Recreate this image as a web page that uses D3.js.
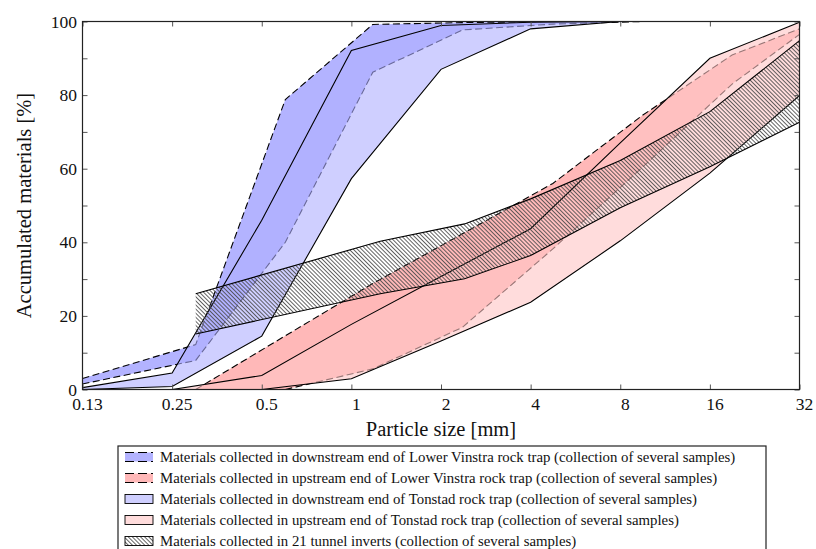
<!DOCTYPE html>
<html>
<head>
<meta charset="utf-8">
<script src="https://cdn.jsdelivr.net/npm/d3@7"></script>
<style>
  body { margin: 0; background: #fff; }
  text { font-family: "Liberation Serif", serif; fill: #111; }
</style>
</head>
<body>
<div id="chart"></div>
<script>
// Grain size curves: bands of accumulated materials vs particle size (log2 axis)

// Axis ticks
var xTicks = [0.125, 0.25, 0.5, 1, 2, 4, 8, 16, 32];
var xTickLabels = ["0.13", "0.25", "0.5", "1", "2", "4", "8", "16", "32"];
var yTicks = [0, 10, 20, 30, 40, 50, 60, 70, 80, 90, 100];
var yTickLabels = ["0", "", "20", "", "40", "", "60", "", "80", "", "100"];

// Lower Vinstra rock trap (sieve sizes in mm, % passing)
var lvSizes = [0.125, 0.3, 0.6, 1.18, 2.36, 4.75, 9.5, 19, 32];
var lvDownUpper = [3, 12.2, 78.8, 99.2, 99.7, 100, 100, 100, 100];
var lvDownLower = [1.5, 7.9, 40, 86.2, 97.7, 99.3, 100, 100, 100];
var lvUpUpper = [null, 0, 14.6, 28.8, 42.3, 56, 74.5, 90.9, 98];
var lvUpLower = [null, null, 0, 5.6, 16.9, 38.2, 60.4, 83, 96.5];

// Tonstad rock trap
var tonSizes = [0.125, 0.25, 0.5, 1, 2, 4, 8, 16, 32];
var tonDownUpper = [0.5, 4.5, 46, 92.1, 98.9, 99.8, 100, 100, 100];
var tonDownLower = [0, 0.8, 14.5, 57.3, 87, 98, 100, 100, 100];
var tonUpUpper = [null, 0, 3.8, 17.7, 30.7, 43.7, 67, 90, 99.8];
var tonUpLower = [null, null, 0, 2.9, 13.2, 23.7, 40.4, 58.8, 79.9];

// 21 tunnel inverts
var tunnelSizes = [0.3, 1.25, 2.4, 4, 8, 16, 32];
var tunnelUpper = [26, 40.3, 45, 51.8, 62.2, 75.5, 94.8];
var tunnelLower = [15.1, 26, 30.1, 36.4, 49.4, 60.5, 72.6];

var legendLabels = [
  "Materials collected in downstream end of Lower Vinstra rock trap (collection of several samples)",
  "Materials collected in upstream end of Lower Vinstra rock trap (collection of several samples)",
  "Materials collected in downstream end of Tonstad rock trap (collection of several samples)",
  "Materials collected in upstream end of Tonstad rock trap (collection of several samples)",
  "Materials collected in 21 tunnel inverts (collection of several samples)"
];

// SVG area
var svgWidth = 816;
var svgHeight = 549;
var margin = {top: 21.5, right: 16.5, bottom: 159.5, left: 82.5};
var chartWidth = svgWidth - margin.left - margin.right;
var chartHeight = svgHeight - margin.top - margin.bottom;

var svg = d3.select("#chart")
  .append("svg")
  .attr("width", svgWidth)
  .attr("height", svgHeight);

var defs = svg.append("defs");
defs.append("pattern")
  .attr("id", "hatch")
  .attr("patternUnits", "userSpaceOnUse")
  .attr("width", 2.9)
  .attr("height", 2.9)
  .attr("patternTransform", "rotate(45)")
  .append("line")
  .attr("x1", 0).attr("y1", 1.45)
  .attr("x2", 2.9).attr("y2", 1.45)
  .attr("stroke", "#4a4a4a")
  .attr("stroke-width", 0.85);

defs.append("clipPath")
  .attr("id", "plotClip")
  .append("rect")
  .attr("width", chartWidth)
  .attr("height", chartHeight);

var chartGroup = svg.append("g")
  .attr("transform", "translate(" + margin.left + "," + margin.top + ")");

var xScale = d3.scaleLog().base(2).domain([0.125, 32]).range([0, chartWidth]);
var yScale = d3.scaleLinear().domain([0, 100]).range([chartHeight, 0]);

function pts(sizes, vals) {
  var out = [];
  sizes.forEach(function(s, i) {
    if (vals[i] !== null) out.push([s, vals[i]]);
  });
  return out;
}

var line = d3.line()
  .x(function(d) { return xScale(d[0]); })
  .y(function(d) { return yScale(d[1]); });

function band(upper, lower) {
  return line(upper.concat(lower.slice().reverse())) + "Z";
}

var bands = [
  {up: pts(lvSizes, lvDownUpper), lo: pts(lvSizes, lvDownLower), fill: "#b3b3ff", op: 1, dash: "7,3.5"},
  {up: pts(lvSizes, lvUpUpper), lo: pts(lvSizes, lvUpLower), fill: "#ffb8b8", op: 1, dash: "7,3.5"},
  {up: pts(tonSizes, tonDownUpper), lo: pts(tonSizes, tonDownLower), fill: "#afafff", op: 0.6, dash: null},
  {up: pts(tonSizes, tonUpUpper), lo: pts(tonSizes, tonUpLower), fill: "#ffc4c4", op: 0.6, dash: null},
  {up: pts(tunnelSizes, tunnelUpper), lo: pts(tunnelSizes, tunnelLower), fill: "url(#hatch)", op: 1, dash: null}
];

var plot = chartGroup.append("g").attr("clip-path", "url(#plotClip)");

bands.forEach(function(b) {
  plot.append("path")
    .attr("d", band(b.up, b.lo))
    .attr("fill", b.fill)
    .attr("fill-opacity", b.op)
    .attr("stroke", "none");
  [b.up, b.lo].forEach(function(c) {
    plot.append("path")
      .attr("d", line(c))
      .attr("fill", "none")
      .attr("stroke", "#000")
      .attr("stroke-width", 1.1)
      .attr("stroke-dasharray", b.dash);
  });
});

// Axes, ticks pointing inward on all four sides
var bottomAxis = d3.axisBottom(xScale).tickValues(xTicks)
  .tickFormat(function(d, i) { return xTickLabels[i]; })
  .tickSize(-5).tickPadding(8);
var topAxis = d3.axisTop(xScale).tickValues(xTicks).tickFormat("").tickSize(-5);
var leftAxis = d3.axisLeft(yScale).tickValues(yTicks)
  .tickFormat(function(d, i) { return yTickLabels[i]; })
  .tickSize(-5).tickPadding(5.5);
var rightAxis = d3.axisRight(yScale).tickValues(yTicks).tickFormat("").tickSize(-5);

var gx = chartGroup.append("g").attr("transform", "translate(0," + chartHeight + ")").call(bottomAxis);
var gt = chartGroup.append("g").call(topAxis);
var gy = chartGroup.append("g").call(leftAxis);
var gr = chartGroup.append("g").attr("transform", "translate(" + chartWidth + ",0)").call(rightAxis);

[gx, gt, gy, gr].forEach(function(g) {
  g.select(".domain").remove();
  g.selectAll(".tick line").attr("stroke", "#555").attr("stroke-width", 1);
  g.selectAll("text").style("font-family", "Liberation Serif, serif").style("font-size", "17.5px").attr("fill", "#111");
});
gx.selectAll("text").attr("dx", 4.5);

chartGroup.append("rect")
  .attr("width", chartWidth)
  .attr("height", chartHeight)
  .attr("fill", "none")
  .attr("stroke", "#222")
  .attr("stroke-width", 1.2);

// Axis titles
chartGroup.append("text")
  .attr("transform", "translate(" + (-52) + "," + (chartHeight / 2) + ") rotate(-90)")
  .attr("text-anchor", "middle")
  .style("font-size", "20.5px")
  .text("Accumulated materials [%]");

chartGroup.append("text")
  .attr("x", chartWidth / 2)
  .attr("y", chartHeight + 46)
  .attr("text-anchor", "middle")
  .style("font-size", "20.5px")
  .text("Particle size [mm]");

// Legend
var legend = svg.append("g").attr("transform", "translate(118,446)");
legend.append("rect")
  .attr("width", 648)
  .attr("height", 120)
  .attr("fill", "#fff")
  .attr("stroke", "#222")
  .attr("stroke-width", 1.2);

var rowY = d3.range(5).map(function(i) { return 11 + i * 21; });

bands.forEach(function(b, i) {
  var row = legend.append("g").attr("transform", "translate(0," + rowY[i] + ")");
  row.append("rect")
    .attr("x", 7).attr("y", -4.5)
    .attr("width", 28).attr("height", 9)
    .attr("fill", b.fill)
    .attr("fill-opacity", b.op)
    .attr("stroke", b.dash ? "none" : "#000")
    .attr("stroke-width", 0.9);
  if (b.dash) {
    [-4.5, 4.5].forEach(function(yy) {
      row.append("line")
        .attr("x1", 7).attr("x2", 35)
        .attr("y1", yy).attr("y2", yy)
        .attr("stroke", "#000")
        .attr("stroke-width", 1.1)
        .attr("stroke-dasharray", "9,4");
    });
  }
  row.append("text")
    .attr("x", 42)
    .attr("y", 0)
    .attr("dy", "0.35em")
    .style("font-size", "14.8px")
    .text(legendLabels[i]);
});
</script>
</body>
</html>
